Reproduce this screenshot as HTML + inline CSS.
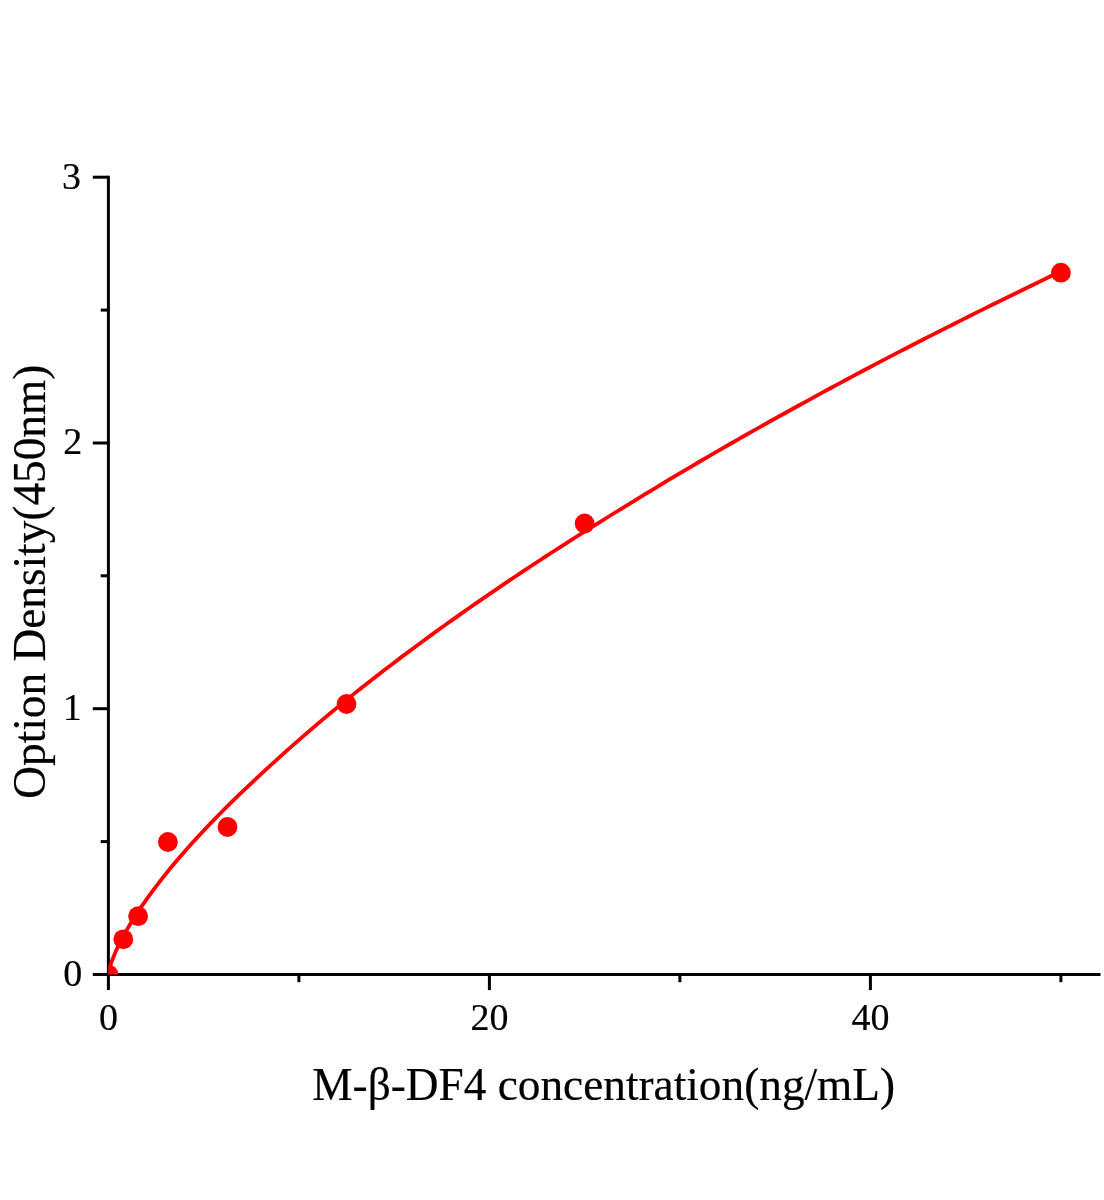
<!DOCTYPE html>
<html><head><meta charset="utf-8"><title>Standard curve</title>
<style>
html,body{margin:0;padding:0;background:#fff;}
svg{display:block;font-family:"Liberation Serif","Times New Roman",serif;}
</style></head>
<body>
<svg width="1104" height="1200" viewBox="0 0 1104 1200">
<rect width="1104" height="1200" fill="#fff"/>
<defs><clipPath id="plot"><rect x="108.4" y="0" width="1000" height="974.5"/></clipPath></defs>
<g stroke="#000" stroke-width="3" fill="none">
<line x1="108.4" y1="175.7" x2="108.4" y2="990.1"/><line x1="92.8" y1="974.5" x2="1100.5" y2="974.5"/><line x1="92.8" y1="708.7" x2="108.4" y2="708.7"/><line x1="92.8" y1="443.0" x2="108.4" y2="443.0"/><line x1="92.8" y1="177.2" x2="108.4" y2="177.2"/><line x1="100.7" y1="841.6" x2="108.4" y2="841.6"/><line x1="100.7" y1="575.8" x2="108.4" y2="575.8"/><line x1="100.7" y1="310.1" x2="108.4" y2="310.1"/><line x1="489.4" y1="974.5" x2="489.4" y2="990.1"/><line x1="870.4" y1="974.5" x2="870.4" y2="990.1"/><line x1="298.9" y1="974.5" x2="298.9" y2="982.2"/><line x1="679.9" y1="974.5" x2="679.9" y2="982.2"/><line x1="1060.9" y1="974.5" x2="1060.9" y2="982.2"/>
</g>
<g clip-path="url(#plot)">
<path d="M108.40,974.40 L108.45,973.83 L108.58,972.84 L108.81,971.58 L109.12,970.12 L109.53,968.49 L110.03,966.70 L110.62,964.77 L111.30,962.71 L112.07,960.54 L112.93,958.25 L113.88,955.86 L114.92,953.37 L116.06,950.79 L117.28,948.12 L118.59,945.36 L120.00,942.52 L121.49,939.61 L123.08,936.62 L124.75,933.55 L126.52,930.42 L128.38,927.21 L130.33,923.94 L132.37,920.61 L134.49,917.22 L136.71,913.76 L139.02,910.24 L141.43,906.67 L143.92,903.05 L146.50,899.36 L154.18,888.82 L161.87,878.82 L169.55,869.28 L177.24,860.09 L184.92,851.22 L192.60,842.60 L200.29,834.21 L207.97,826.04 L215.66,818.06 L223.34,810.26 L231.02,802.61 L238.71,795.11 L246.39,787.77 L254.08,780.54 L261.76,773.41 L269.44,766.36 L277.13,759.37 L284.81,752.46 L292.50,745.64 L300.18,738.90 L307.86,732.25 L315.55,725.68 L323.23,719.17 L330.92,712.73 L338.60,706.36 L346.28,700.07 L353.97,693.87 L361.65,687.75 L369.34,681.71 L377.02,675.72 L384.71,669.80 L392.39,663.94 L400.07,658.13 L407.76,652.37 L415.44,646.66 L423.13,641.01 L430.81,635.40 L438.49,629.83 L446.18,624.31 L453.86,618.83 L461.55,613.40 L469.23,608.00 L476.91,602.65 L484.60,597.33 L492.28,592.06 L499.97,586.82 L507.65,581.63 L515.33,576.47 L523.02,571.35 L530.70,566.27 L538.39,561.22 L546.07,556.21 L553.75,551.23 L561.44,546.29 L569.12,541.38 L576.81,536.49 L584.49,531.64 L592.17,526.81 L599.86,522.02 L607.54,517.24 L615.23,512.50 L622.91,507.77 L630.59,503.06 L638.28,498.36 L645.96,493.67 L653.65,489.01 L661.33,484.36 L669.01,479.73 L676.70,475.13 L684.38,470.56 L692.07,466.02 L699.75,461.51 L707.43,457.04 L715.12,452.58 L722.80,448.15 L730.49,443.75 L738.17,439.36 L745.85,435.00 L753.54,430.66 L761.22,426.33 L768.91,422.03 L776.59,417.75 L784.27,413.49 L791.96,409.24 L799.64,405.01 L807.33,400.80 L815.01,396.60 L822.69,392.42 L830.38,388.26 L838.06,384.11 L845.75,379.99 L853.43,375.88 L861.12,371.79 L868.80,367.73 L876.48,363.68 L884.17,359.66 L891.85,355.66 L899.54,351.67 L907.22,347.70 L914.90,343.75 L922.59,339.81 L930.27,335.88 L937.96,331.97 L945.64,328.08 L953.32,324.20 L961.01,320.34 L968.69,316.48 L976.38,312.65 L984.06,308.83 L991.74,305.02 L999.43,301.23 L1007.11,297.45 L1014.80,293.68 L1022.48,289.93 L1030.16,286.19 L1037.85,282.46 L1045.53,278.75 L1053.22,275.05 L1060.90,271.36" fill="none" stroke="#ff0000" stroke-width="3.8" stroke-linejoin="round"/>
<g fill="#ff0000"><circle cx="108.4" cy="974.4" r="9.9"/><circle cx="123.3" cy="939.3" r="9.9"/><circle cx="138.1" cy="916.2" r="9.9"/><circle cx="167.9" cy="842.0" r="9.9"/><circle cx="227.5" cy="827.0" r="9.9"/><circle cx="346.5" cy="704.0" r="9.9"/><circle cx="584.6" cy="523.5" r="9.9"/><circle cx="1060.9" cy="272.7" r="9.9"/></g>
</g>
<g font-size="38" fill="#000" stroke="#000" stroke-width="0.2">
<text transform="translate(82.2,985.8) scale(1,1.025)" text-anchor="end">0</text><text transform="translate(81.8,720.0) scale(1,1.025)" text-anchor="end">1</text><text transform="translate(82.2,454.3) scale(1,1.025)" text-anchor="end">2</text><text transform="translate(81.1,188.5) scale(1,1.025)" text-anchor="end">3</text><text x="108.4" y="1030.2" text-anchor="middle">0</text><text x="489.4" y="1030.2" text-anchor="middle">20</text><text x="870.4" y="1030.2" text-anchor="middle">40</text>
</g>
<text transform="translate(603.7,1099.9) scale(1,1.02)" font-size="45.3" text-anchor="middle" fill="#000" stroke="#000" stroke-width="0.2">M-β-DF4 concentration(ng/mL)</text>
<text transform="translate(45.1,581.7) rotate(-90) scale(1,1.02)" font-size="45.3" text-anchor="middle" fill="#000" stroke="#000" stroke-width="0.2">Option Density(450nm)</text>
</svg>
</body></html>
